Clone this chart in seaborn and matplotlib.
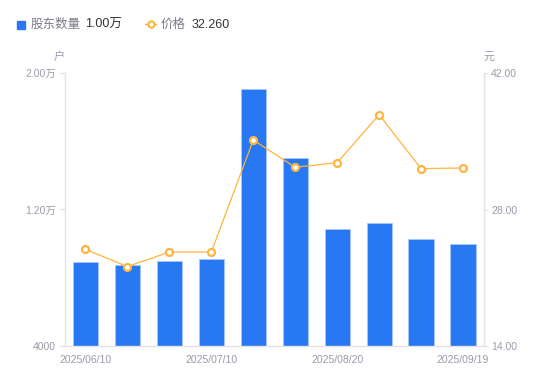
import numpy as np
import pandas as pd
import matplotlib
matplotlib.use('Agg')
import matplotlib.pyplot as plt
import seaborn as sns
from matplotlib.lines import Line2D
from matplotlib.patches import Rectangle

dates = ['2025/06/10', '2025/06/20', '2025/06/30', '2025/07/10', '2025/07/18',
         '2025/07/31', '2025/08/20', '2025/08/29', '2025/09/10', '2025/09/19']
holders = [8920, 8750, 8980, 9100, 19040, 15020, 10880, 11230, 10290, 10000]
price = [23.92, 22.14, 23.64, 23.64, 35.13, 32.33, 32.80, 37.73, 32.19, 32.26]
shown_dates = ['2025/06/10', '2025/07/10', '2025/08/20', '2025/09/19']
left_ticks = [4000, 12000, 20000]
left_labels = ['4000', '1.20万', '2.00万']
right_ticks = [14, 28, 42]

blue = '#2778F2'
orange = '#FFB43D'
grey_txt = '#9A9BAB'
axis_col = '#E3E3E6'

sns.set_style('white')
plt.rcParams['font.family'] = ['Liberation Sans', 'Noto Sans CJK SC', 'DejaVu Sans']

df = pd.DataFrame({'date': dates, 'holders': holders, 'price': price})

fig = plt.figure(figsize=(5.5, 3.81), dpi=100)
ax = fig.add_axes([64.5 / 550, 1 - 346 / 381, (484 - 64.5) / 550, (346 - 73) / 381])

sns.barplot(data=df, x='date', y='holders', color=blue, width=0.6,
            edgecolor='#A9C8FA', linewidth=0.6, saturation=1, ax=ax)
ax.set_xlim(-0.5, len(dates) - 0.5)
ax.set_ylim(4000, 20000)
ax.set_yticks(left_ticks)
ax.set_yticklabels(left_labels)
ax.set_xticks([dates.index(d) for d in shown_dates])
ax.set_xticklabels(shown_dates)
ax.set_xlabel('')
ax.set_ylabel('')

ax2 = ax.twinx()
df['pos'] = np.arange(len(dates))
sns.lineplot(data=df, x='pos', y='price', color=orange, linewidth=0.9,
             marker='o', markersize=5, markerfacecolor='white',
             markeredgecolor=orange, markeredgewidth=1.6, ax=ax2)
ax2.set_ylim(14, 42)
ax2.set_yticks(right_ticks)
ax2.set_yticklabels(['%.2f' % t for t in right_ticks])
ax2.set_xlim(-0.5, len(dates) - 0.5)
ax2.set_ylabel('')
ax2.set_xlabel('')

for a in (ax, ax2):
    for s in a.spines.values():
        s.set_visible(False)
ax.spines['left'].set_visible(True)
ax.spines['bottom'].set_visible(True)
ax2.spines['right'].set_visible(True)
for s in (ax.spines['left'], ax.spines['bottom'], ax2.spines['right']):
    s.set_color(axis_col)
    s.set_linewidth(1)

ax.tick_params(axis='y', left=True, length=4, width=0.8, color=axis_col,
               labelsize=7.5, labelcolor=grey_txt, pad=2)
ax.tick_params(axis='x', bottom=False, labelsize=7.5, labelcolor=grey_txt, pad=3)
ax2.tick_params(axis='y', right=True, length=3, width=0.8, color=axis_col,
                labelsize=7.5, labelcolor=grey_txt, pad=2)

fig.text(59 / 550, 1 - 57 / 381, '户', fontsize=8, color=grey_txt, ha='center', va='center')
fig.text(489 / 550, 1 - 57 / 381, '元', fontsize=8, color=grey_txt, ha='center', va='center')

# legend drawn by hand
fig.add_artist(Rectangle((17 / 550, 1 - 28.5 / 381), 8 / 550, 8 / 381,
                         transform=fig.transFigure, color=blue))
fig.text(31 / 550, 1 - 24.5 / 381, '股东数量', fontsize=9, color='#7A7B8C', va='center')
fig.text(85 / 550, 1 - 24.5 / 381, '1.00万', fontsize=9, color='#333333', va='center')
fig.add_artist(Line2D([145 / 550, 156 / 550], [1 - 24 / 381, 1 - 24 / 381],
                      transform=fig.transFigure, color=orange, linewidth=1))
fig.add_artist(Line2D([150.5 / 550], [1 - 24 / 381], transform=fig.transFigure,
                      marker='o', markersize=4.5, markerfacecolor='white',
                      markeredgecolor=orange, markeredgewidth=1.5))
fig.text(161 / 550, 1 - 24.5 / 381, '价格', fontsize=9, color='#7A7B8C', va='center')
fig.text(192 / 550, 1 - 24.5 / 381, '32.260', fontsize=9, color='#333333', va='center')

fig.savefig('out.png', dpi=100)
